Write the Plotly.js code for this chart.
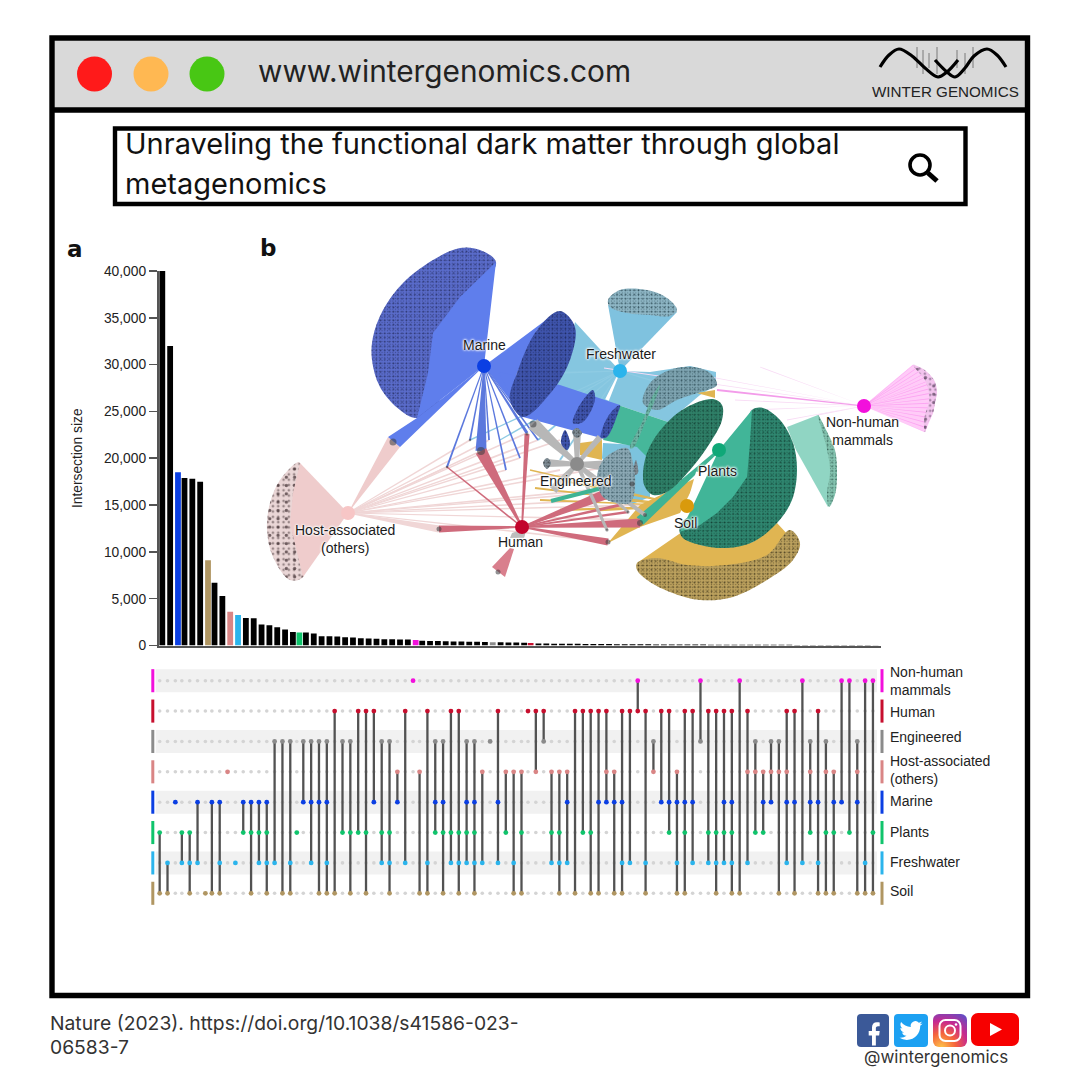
<!DOCTYPE html>
<html><head><meta charset="utf-8">
<script src="https://cdn.plot.ly/plotly-3.0.1.min.js"></script>
<style>html,body{margin:0;padding:0;background:#fff}#c{width:1080px;height:1080px}</style>
</head><body><div id="c"></div>
<script>
/* ---------- panel a : upset data ---------- */
const rowCodes  = ["N","H","E","A","M","P","F","S"];
const rowLabels = ["Non-human mammals","Human","Engineered","Host-associated (others)","Marine","Plants","Freshwater","Soil"];
const rowColors = ["#f210dc","#c70f2e","#8b8b8b","#d98585","#0b3fe3","#10c46c","#2bb4ec","#b09662"];
const barValues = [40000,32000,18500,17900,17800,17500,9100,6700,5300,3600,
  3250,2950,2900,2250,2150,1950,1700,1450,1400,1380,
  1280,1000,980,950,890,860,780,750,710,680,
  670,650,630,600,500,480,470,450,430,420,
  410,400,380,350,340,330,310,300,280,220,
  210,200,190,185,180,170,165,160,150,145,
  140,135,130,125,120,115,110,105,100,98,
  95,92,90,88,85,82,80,78,75,72,
  70,68,65,62,60,58,55,52,50,48,
  45,42,40];
const columnSets = ["PS","FS","M","PF","PFS","MF","S","MS","MFS","A",
  "F","MP","MPS","MPF","MPFS","EF","ES","EFS","P","EM",
  "EMF","EMS","EMFS","HS","EP","EPS","HP","HPS","HM","EPF",
  "EPFS","AM","HF","N","AS","HFS","EMP","EMPS","HPF","HPFS",
  "EMPF","EMPFS","AF","E","HMF","AP","AFS","APS","H","HA",
  "HE","APF","APFS","AMF","HS","HP","HPS","HMS","HAM","AMS",
  "HMFS","HF","NH","HFS","EA","HM","HMP","AMFS","HMPS","HMF",
  "NE","HPF","HPFS","HMPF","HMPFS","NS","HAF","EAP","AMP","EAM",
  "EAS","HAMF","HMS","NF","EAMP","HMFS","EAPS","AMPS","NM","NP",
  "EAMS","NFS","NPS"];
const yTicks = [0,5000,10000,15000,20000,25000,30000,35000,40000];
const narrowGapsAfter = [2,6,17,18,33,47];

/* ---------- panel b : network ---------- */
const netNodes = {
  marine:[484,366,"#0b3fe3"], fresh:[620,371,"#2bb4ec"], human:[522,527,"#c2042c"],
  host:[348,513,"#f7c6c6"], eng:[577,464,"#8b8b8b"], plants:[719,450,"#10a878"],
  soil:[687,506,"#d99a0c"], mammal:[864,406,"#f210dc"]
};
const netLabels = [["Marine",484,345],["Freshwater",621,354],["Engineered",576,481],["Plants",717,471],
  ["Soil",685,523],["Human",520,542],["Host-associated<br>(others)",345,539],["Non-human<br>mammals",862,431]];

const marineCrescent=[[496,262],[480,250],[460,248],[433,260],[403,283],[383,310],[373,337],[372,360],[380,387],[400,410],[417,418],[440,400],[450,340],[480,290],[496,262]];
const marineEllipse=[[560,311],[575,327],[570,360],[553,390],[523,417],[510,400],[517,373],[537,330],[560,311]];
const marineSmallA=[[593,390],[595,400],[583,422],[573,423],[577,410],[587,395],[593,390]];
const marineSmallB=[[620,405],[618,413],[607,437],[601,438],[605,422],[613,410],[620,405]];
const marineSmallC=[[565,430],[570,443],[567,450],[561,443],[565,430]];
const smallGreyA=[[577,428],[582,433],[577,438],[572,432],[577,428]];
const smallGreyB=[[547,458],[551,463],[547,469],[543,463],[547,458]];
const smallGreyC=[[636,460],[638,473],[635,475],[634,467],[636,460]];
const freshCap=[[608,300],[620,290],[647,290],[667,298],[677,310],[670,316],[650,315],[627,313],[610,307],[608,300]];
const freshUpper=[[643,403],[650,383],[670,370],[693,367],[710,373],[717,385],[700,392],[677,400],[657,410],[643,403]];
const freshLower=[[597,477],[605,458],[627,448],[633,463],[635,487],[630,503],[617,503],[603,497],[597,477]];
const freshTail=[[630,448],[643,420],[652,397],[660,385],[655,400],[645,423],[633,448],[630,448]];
const plantsEllipse=[[643,477],[647,453],[663,427],[687,407],[713,399],[722,405],[722,420],[710,443],[690,470],[667,492],[653,495],[645,487],[643,477]];
const plantsCrescent=[[752,410],[763,408],[780,420],[793,443],[797,470],[792,500],[777,523],[753,542],[727,548],[700,545],[682,537],[680,525],[715,500],[735,470],[745,430],[752,410]];
const plantsArc=[[818,415],[827,432],[835,450],[837,475],[835,495],[829,507],[827,495],[830,470],[826,445],[818,415]];
const soilCrescent=[[637,563],[657,558],[687,565],[727,565],[767,555],[790,530],[800,543],[793,560],[767,580],[733,597],[700,600],[670,592],[647,580],[637,570],[637,563]];
const hostCrescent=[[298,462],[280,480],[270,503],[267,530],[273,557],[290,580],[303,577],[300,540],[300,510],[300,463],[298,462]];
const mammalArc=[[913,365],[923,369],[930,375],[935,382],[937,392],[935,403],[933,413],[928,423],[925,432],[924,420],[929,400],[926,382],[913,365]];

const freshBack=[[620,371],[575,322],[566,365],[552,392],[600,400],[618,405],[668,422],[700,395],[716,385],[716,372],[690,366],[650,372],[620,371]];
const freshCone=[[620,371],[608,305],[677,312],[620,371]];
const tealPatch=[[603,440],[618,405],[668,422],[647,457],[637,447],[603,440]];
const bluePatch=[[602,458],[603,443],[637,445],[665,425],[650,480],[650,497],[630,505],[602,458]];
const goldPatchA=[[580,443],[602,440],[602,460],[580,455],[580,443]];
const goldPatchB=[[697,393],[715,390],[715,398],[697,393]];
const goldBand=[[608,543],[640,527],[680,513],[698,477],[640,505],[608,543]];
const goldFan=[[682,532],[700,545],[727,548],[753,542],[777,523],[790,537],[800,543],[767,563],[727,573],[687,573],[657,567],[637,563],[682,532]];
const marineFanBig=[[484,366],[496,262],[460,297],[433,333],[428,373],[417,418],[484,366]];
const marineFanTail=[[484,366],[400,447],[388,437],[417,418],[484,366]];
const marineFanMid=[[484,366],[558,311],[537,330],[517,373],[510,400],[484,366]];
const marineFanLow=[[498,372],[523,417],[601,438],[620,405],[560,385],[498,372]];
const hostFan=[[348,513],[300,463],[293,493],[290,523],[303,577],[348,513]];
const hostTail=[[388,437],[400,447],[348,513],[388,437]];
const humanFoot=[[514,549],[505,577],[492,567],[510,548],[514,549]];
const humanPatch=[[512,533],[527,528],[524,538],[510,538],[512,533]];
const plantsFan=[[719,450],[752,410],[750,443],[747,477],[733,497],[717,513],[700,525],[680,532],[690,512],[719,450]];
const plantsRayFan=[[787,427],[818,415],[827,432],[837,470],[828,507],[796,450],[787,427]];
const mammalFan=[[864,406],[913,365],[930,375],[937,392],[933,413],[925,432],[864,406]];

/* links: target x, target y, end width */
const pinkLink="#f0d6d6", redLink="#cf6b7c", blueLink="#5b78dd", greyLink="#b7b7b7",
      tealLink="#3fb394", goldLink="#e0b552", skyLink="#8ecbe3", magLink="#f39cea", paleMag="#f8dcf5";
const hostLinks=[[439,529,7],[447,467,1.8],[470,440,1.8],[489,440,1.8],[506,470,1.8],[520,458,1.8],[527,433,1.8],[538,440,1.8],[560,470,1.8],[590,490,1.8],[630,490,1.8],[640,505,1.8],[640,520,1.8],[608,542,1.8],[600,500,1.8],[481,451,1.8],[560,440,1.8],[612,466,1.8]];
const freshLinks=[[470,440,1.4],[500,440,1.4],[538,440,2],[560,460,2],[553,373,2],[660,383,1.6]];
const goldLinks=[[535,488,2.2],[540,500,2.2],[560,510,2.4],[590,497,2.4],[530,470,1.6],[600,510,2.4],[560,480,2]];
const marineLinks=[[481,451,11],[447,467,2],[470,440,1.8],[489,440,1.8],[506,470,1.8],[520,458,1.8],[527,433,3.2],[538,440,1.8]];
const humanLinks=[[439,529,7],[481,451,12],[527,434,5],[632,484,13],[640,523,9],[608,542,7],[628,512,2.4],[447,467,1.6],[600,498,4],[620,505,3]];
const engLinks=[[533,424,13],[547,463,8],[577,432,8],[600,437,6],[612,466,12],[645,515,4],[607,530,3],[553,490,9],[628,512,3]];
const plantsLinks=[[640,521,10]];
const mammalStrong=[[717,390,2]];
const mammalLinks=[[604,368,.8],[760,367,.8],[684,372,.8],[750,410,1],[787,420,1.2],[818,415,1.2],[735,400,1]];
const mammalRays=[[913,365],[918,367],[923,369],[927,372],[930,375],[933,379],[935,382],[936,387],[937,392],[936,398],[935,403],[934,408],[933,413],[931,418],[928,423],[927,428],[925,432]];
const tips=[[439,529,5],[481,451,8],[527,434,3],[632,484,5],[640,523,6],[608,542,5],[628,512,3],[447,467,2.5],[470,440,2.5],[533,424,7],[607,530,3],[645,515,4],[393,442,7],[498,572,5]];

/* ---------- page frame values ---------- */
const buttonColors=["#ff1a1a","#ffb852","#48c714"];
const buttonCentersX=[94.5,151,207];

/* ---------- helpers ---------- */
const W=1080;
const px=x=>x/W, py=y=>1-y/W;
function slot(i){return i-0.17*narrowGapsAfter.filter(a=>a<i).length;}
const slots=columnSets.map((_,i)=>slot(i));
const barCol=columnSets.map(s=>s.length===1?rowColors[rowCodes.indexOf(s)]:"#000");

const traces=[];
traces.push({type:"bar",x:slots,y:barValues,width:0.74,marker:{color:barCol,line:{width:0}},xaxis:"x",yaxis:"y",hoverinfo:"skip"});

const gx=[],gy=[];
slots.forEach(s=>rowCodes.forEach((_,r)=>{gx.push(s);gy.push(r);}));
traces.push({type:"scatter",mode:"markers",x:gx,y:gy,marker:{size:3.6,color:"#d4d4d4"},xaxis:"x2",yaxis:"y2",hoverinfo:"skip"});
const lx=[],ly=[],ax=[],ay=[],ac=[];
columnSets.forEach((set,i)=>{
  const rows=[...set].map(c=>rowCodes.indexOf(c));
  rows.forEach(r=>{ax.push(slots[i]);ay.push(r);ac.push(rowColors[r]);});
  if(rows.length>1){lx.push(slots[i],slots[i],null);ly.push(Math.min(...rows),Math.max(...rows),null);}
});
traces.push({type:"scatter",mode:"lines",x:lx,y:ly,line:{color:"#525252",width:2.3},xaxis:"x2",yaxis:"y2",hoverinfo:"skip"});
traces.push({type:"scatter",mode:"markers",x:ax,y:ay,marker:{size:4.8,color:ac},xaxis:"x2",yaxis:"y2",hoverinfo:"skip"});

function poly(pts,fill,smooth){
  traces.push({type:"scatter",mode:"lines",x:pts.map(p=>p[0]),y:pts.map(p=>p[1]),fill:"toself",fillcolor:fill,
    line:{width:0,color:fill,shape:smooth?"spline":"linear"},xaxis:"x3",yaxis:"y3",hoverinfo:"skip"});
}
function dotted(pts,bg,fg,fine,sparse){
  const base={type:"scatter",mode:"lines",x:pts.map(p=>p[0]),y:pts.map(p=>p[1]),fill:"toself",
    line:{width:0,color:"rgba(0,0,0,0)",shape:"spline"},xaxis:"x3",yaxis:"y3",hoverinfo:"skip"};
  traces.push(Object.assign({},base,{fillcolor:bg,fillpattern:{shape:".",bgcolor:bg,fgcolor:fg,fgopacity:.45,size:fine||2.7,solidity:.2}}));
  traces.push(Object.assign({},base,{fillcolor:"rgba(0,0,0,0)",fillpattern:{shape:".",bgcolor:"rgba(0,0,0,0)",fgcolor:fg,fgopacity:.7,size:sparse||4.3,solidity:.13}}));
}
function link(from,t,color,w0){
  const [x0,y0]=from,[x1,y1]=t;const d=Math.hypot(x1-x0,y1-y0),nx=-(y1-y0)/d,ny=(x1-x0)/d,a=(w0||1)/2,b=t[2]/2;
  poly([[x0+nx*a,y0+ny*a],[x1+nx*b,y1+ny*b],[x1-nx*b,y1-ny*b],[x0-nx*a,y0-ny*a],[x0+nx*a,y0+ny*a]],color);
}
const N=netNodes;
/* back layers */
poly(freshBack,"#85c6e0");poly(freshCone,"#7fc2df");poly(bluePatch,"#7cc3de");poly(tealPatch,"#46b79a");
poly(goldPatchA,"#e0b552");poly(goldPatchB,"#e0b552");
hostLinks.forEach(l=>link(N.host,l,pinkLink));
freshLinks.forEach(l=>link(N.fresh,l,skyLink));
goldLinks.forEach(l=>link(N.soil,l,goldLink));
mammalLinks.forEach(l=>link(N.mammal,l,paleMag,.6));
mammalStrong.forEach(l=>link(N.mammal,l,magLink,1));
dotted(hostCrescent,"#ead6d6","#3a2a2c",5.3,8.3);
poly(hostFan,"#efcccc");poly(hostTail,"#efcccc");
dotted(marineCrescent,"#5a6ccb","#1c2450");
poly(marineFanBig,"#5f7eec");poly(marineFanTail,"#5f7eec");poly(marineFanMid,"#5f7eec");poly(marineFanLow,"#5f7eec");
marineLinks.forEach(l=>link(N.marine,l,blueLink));
poly(goldBand,"#e0b552");poly(goldFan,"#e0b552");
dotted(soilCrescent,"#bda25e","#2c2510");
poly(plantsRayFan,"rgba(70,185,155,.6)");
poly(mammalFan,"rgba(255,130,238,.42)");
mammalRays.forEach(r=>link(N.mammal,[r[0],r[1],.8],"rgba(245,60,225,.28)",.4));
dotted(plantsCrescent,"#2f8770","#0b3026");
poly(plantsFan,"#41b598");
plantsLinks.forEach(l=>link(N.plants,l,tealLink,3));
humanLinks.forEach(l=>link(N.human,l,redLink,1.6));
poly(humanFoot,"#d97f8d");
engLinks.forEach(l=>link(N.eng,l,greyLink,4));
poly(humanPatch,"#bdbdbd");
link([551,501],[602,488,4],tealLink,4);
link(N.fresh,[607,400,4],"#ffffff",1);
link(N.soil,[698,472,4],"#ffffff",1);
/* dotted blobs on top */
dotted(marineEllipse,"#3f55ae","#141c48");
[marineSmallA,marineSmallB,marineSmallC].forEach(b=>dotted(b,"#3f55ae","#10163c"));
[smallGreyA,smallGreyB,smallGreyC].forEach(b=>dotted(b,"#7f8d96","#222"));
dotted(freshCap,"#8fb7c6","#17323c");
dotted(freshUpper,"#7fa5b2","#1d3a44");
dotted(freshLower,"#8daab6","#1d3a44");
dotted(freshTail,"#6db7a6","#1d4a44");
dotted(plantsEllipse,"#2f8068","#0b3026");
dotted(plantsArc,"#84c4b0","#234a40");
dotted(mammalArc,"#f3c4ee","#55405a",5.3,8.3);
traces.push({type:"scatter",mode:"markers",x:tips.map(t=>t[0]),y:tips.map(t=>t[1]),marker:{size:tips.map(t=>t[2]),color:"rgba(60,60,65,.8)",line:{width:0}},xaxis:"x3",yaxis:"y3",hoverinfo:"skip"});
const nodeKeys=Object.keys(N);
traces.push({type:"scatter",mode:"markers",x:nodeKeys.map(k=>N[k][0]),y:nodeKeys.map(k=>N[k][1]),
  marker:{size:14,color:nodeKeys.map(k=>N[k][2]),line:{width:0}},xaxis:"x3",yaxis:"y3",hoverinfo:"skip"});

/* logo strands */
const logoA=[[880,67],[889,55],[899,49],[912,56],[925,68],[938,77],[947,72],[958,60]];
const logoB=[[1006,67],[997,55],[987,49],[974,56],[965,68],[955,77],[947,72],[935,60]];
[logoA,logoB].forEach(s=>traces.push({type:"scatter",mode:"lines",x:s.map(p=>p[0]),y:s.map(p=>p[1]),
  line:{color:"#000",width:3.2,shape:"spline"},xaxis:"x3",yaxis:"y3",hoverinfo:"skip"}));

/* shapes */
const shapes=[];
const rect=(x0,y0,x1,y1,o)=>shapes.push(Object.assign({type:"rect",xref:"paper",yref:"paper",x0:px(x0),x1:px(x1),y0:py(y0),y1:py(y1),layer:"below",line:{width:0}},o));
rect(52,38,1027.5,110,{fillcolor:"#d9d9d9"});
rect(52,38,1027.5,995.5,{line:{color:"#000",width:5.4}});
rect(52,110,1027.5,110,{line:{color:"#000",width:5.4}});
rect(115,128.5,965.5,204,{line:{color:"#000",width:4.4},fillcolor:"#fff"});
buttonCentersX.forEach((c,i)=>shapes.push({type:"circle",xref:"paper",yref:"paper",x0:px(c-17.5),x1:px(c+17.5),y0:py(74-17.5),y1:py(74+17.5),fillcolor:buttonColors[i],line:{width:0},layer:"below"}));
/* magnifier */
shapes.push({type:"circle",xref:"paper",yref:"paper",x0:px(910),x1:px(930),y0:py(155),y1:py(175),line:{color:"#000",width:3.6},layer:"below"});
shapes.push({type:"line",xref:"paper",yref:"paper",x0:px(928),x1:px(937),y0:py(173),y1:py(181),line:{color:"#000",width:5},layer:"below"});
/* logo hatching */
[917,923,929,937,957,965,973].forEach((x,i)=>shapes.push({type:"line",xref:"paper",yref:"paper",x0:px(x),x1:px(x),y0:py(47+(i%3)*3),y1:py(68+(i%2)*6),line:{color:"#7a7a7a",width:1},layer:"below"}));
/* upset row stripes and colour bars */
const ms=(x)=>(x-159.67)/7.84;
rowCodes.forEach((_,r)=>{
  if(r%2===0)shapes.push({type:"rect",xref:"x2",yref:"y2",x0:ms(155.7),x1:ms(877),y0:r-.38,y1:r+.38,fillcolor:"#f1f1f1",line:{width:0},layer:"below"});
  [152.8,882].forEach(x=>shapes.push({type:"line",xref:"x2",yref:"y2",x0:ms(x),x1:ms(x),y0:r-.38,y1:r+.38,line:{color:rowColors[r],width:3},layer:"below"}));
});

/* annotations */
const ann=[];
const UI="Inter, 'Noto Sans', sans-serif", HV="'Liberation Sans', Arial, sans-serif";
const T=(text,x,y,size,o={})=>ann.push(Object.assign({xref:"paper",yref:"paper",x:px(o.xa?x:x-2.5),y:py(y),text,showarrow:false,xanchor:o.xa||"left",yanchor:"middle",align:o.xa||"left",
  font:{family:o.fam||UI,size,color:o.color||"#1c1c1c"}},o.extra||{}));
T("www.wintergenomics.com",258,71,29.8,{color:"#222"});
T("Unraveling the functional dark matter through global",125,143,29,{color:"#111"});
T("metagenomics",125,183,29,{color:"#111"});
T("WINTER GENOMICS",945,92,15.2,{xa:"center",fam:HV,color:"#222"});
T("<b>a</b>",67,249,23,{fam:"'DejaVu Sans'",color:"#111"});
T("<b>b</b>",260,248,23,{fam:"'DejaVu Sans'",color:"#111"});
T("Nature (2023). https://doi.org/10.1038/s41586-023-",50,1023,19.3,{color:"#333"});
T("06583-7",50,1047,19.3,{color:"#333"});
T("@wintergenomics",935.5,1057,17,{xa:"center",color:"#333"});
const sideLabels=[["Non-human<br>mammals",681],["Human",712],["Engineered",737],["Host-associated<br>(others)",770],["Marine",801],["Plants",832],["Freshwater",862],["Soil",891]];
sideLabels.forEach(l=>T(l[0],890,l[1],14,{fam:HV,color:"#222"}));
netLabels.forEach(l=>ann.push({xref:"x3",yref:"y3",x:l[1],y:l[2],text:l[0],showarrow:false,align:"center",
  font:{family:HV,size:14,color:"#1a1a1a",shadow:"0 0 2px #fff, 0 0 2px #fff, 0 0 3px #fff, 0 0 3px #fff"}}));

/* social icons */
const svg=s=>"data:image/svg+xml;charset=utf-8,"+encodeURIComponent(s);
const icon=(s,x0,y0,w,h)=>({source:svg(s),xref:"paper",yref:"paper",x:px(x0),y:py(y0),sizex:w/W,sizey:h/W,sizing:"stretch",xanchor:"left",yanchor:"top",layer:"above"});
const images=[
 icon(`<svg xmlns="http://www.w3.org/2000/svg" viewBox="0 0 32 33" width="32" height="33"><rect width="32" height="33" rx="4" fill="#3b5998"/><path transform="translate(4 5) scale(1.1)" d="M13.5 24v-9h3l.5-4h-3.5V8.5c0-1.1.4-2 2-2H17V3.1c-.5 0-1.5-.1-2.6-.1-2.6 0-4.4 1.6-4.4 4.6V11H7v4h3v9z" fill="#fff"/></svg>`,857,1014,32,33),
 icon(`<svg xmlns="http://www.w3.org/2000/svg" viewBox="0 0 34 33" width="34" height="33"><rect width="34" height="33" rx="4" fill="#1da1f2"/><path transform="translate(5.5 5) scale(.96)" d="M23.953 4.57a10 10 0 01-2.825.775 4.958 4.958 0 002.163-2.723c-.951.555-2.005.959-3.127 1.184a4.92 4.92 0 00-8.384 4.482C7.69 8.095 4.067 6.13 1.64 3.162a4.822 4.822 0 00-.666 2.475c0 1.71.87 3.213 2.188 4.096a4.904 4.904 0 01-2.228-.616v.06a4.923 4.923 0 003.946 4.827 4.996 4.996 0 01-2.212.085 4.936 4.936 0 004.604 3.417 9.867 9.867 0 01-6.102 2.105c-.39 0-.779-.023-1.17-.067a13.995 13.995 0 007.557 2.209c9.053 0 13.998-7.496 13.998-13.985 0-.21 0-.42-.015-.63A9.935 9.935 0 0024 4.59z" fill="#fff"/></svg>`,894,1014,34,33),
 icon(`<svg xmlns="http://www.w3.org/2000/svg" viewBox="0 0 34 33" width="34" height="33"><defs><radialGradient id="g" cx=".25" cy="1" r="1.2"><stop offset="0" stop-color="#fdc14a"/><stop offset=".35" stop-color="#f5633c"/><stop offset=".65" stop-color="#c7298f"/><stop offset="1" stop-color="#5b4fc9"/></radialGradient></defs><rect width="34" height="33" rx="6" fill="url(#g)"/><rect x="6.5" y="6" width="21" height="21" rx="6" fill="none" stroke="#fff" stroke-width="2"/><circle cx="17" cy="16.5" r="5" fill="none" stroke="#fff" stroke-width="2"/><circle cx="23" cy="10.5" r="1.3" fill="#fff"/></svg>`,933,1014,34,33),
 icon(`<svg xmlns="http://www.w3.org/2000/svg" viewBox="0 0 48 33" width="48" height="33"><rect width="48" height="33" rx="7" fill="#f70000"/><path d="M19 10l12 6.5-12 6.5z" fill="#fff"/></svg>`,971,1013,48,33)
];

const layout={
  width:W,height:W,margin:{l:0,r:0,t:0,b:0},paper_bgcolor:"#fff",plot_bgcolor:"rgba(0,0,0,0)",showlegend:false,
  xaxis:{domain:[px(158.5),px(881)],range:[(158.5-162.3)/7.84,(881-162.3)/7.84],anchor:"y",showline:true,linecolor:"#555",linewidth:2,ticks:"",showticklabels:false,showgrid:false,zeroline:false},
  yaxis:{domain:[py(645.5),py(271)],range:[0,40000],anchor:"x",tickvals:yTicks,ticktext:yTicks.map(v=>v.toLocaleString("en-US")),ticks:"outside",ticklen:8,tickwidth:1.6,tickcolor:"#555",
    showline:true,linecolor:"#555",linewidth:1.6,showgrid:false,zeroline:false,tickfont:{family:HV,size:13.8,color:"#222"},
    title:{text:"Intersection size",font:{family:HV,size:13.8,color:"#222"},standoff:18}},
  xaxis2:{domain:[px(140),px(900)],range:[ms(140),ms(900)],anchor:"y2",visible:false},
  yaxis2:{domain:[py(910),py(660)],range:[(910-680.7)/30.37,(660-680.7)/30.37],anchor:"x2",visible:false},
  xaxis3:{domain:[0,1],range:[0,W],anchor:"y3",visible:false},
  yaxis3:{domain:[0,1],range:[W,0],anchor:"x3",visible:false},
  shapes,annotations:ann,images
};
Plotly.newPlot("c",traces,layout,{displayModeBar:false,staticPlot:true});
</script></body></html>
